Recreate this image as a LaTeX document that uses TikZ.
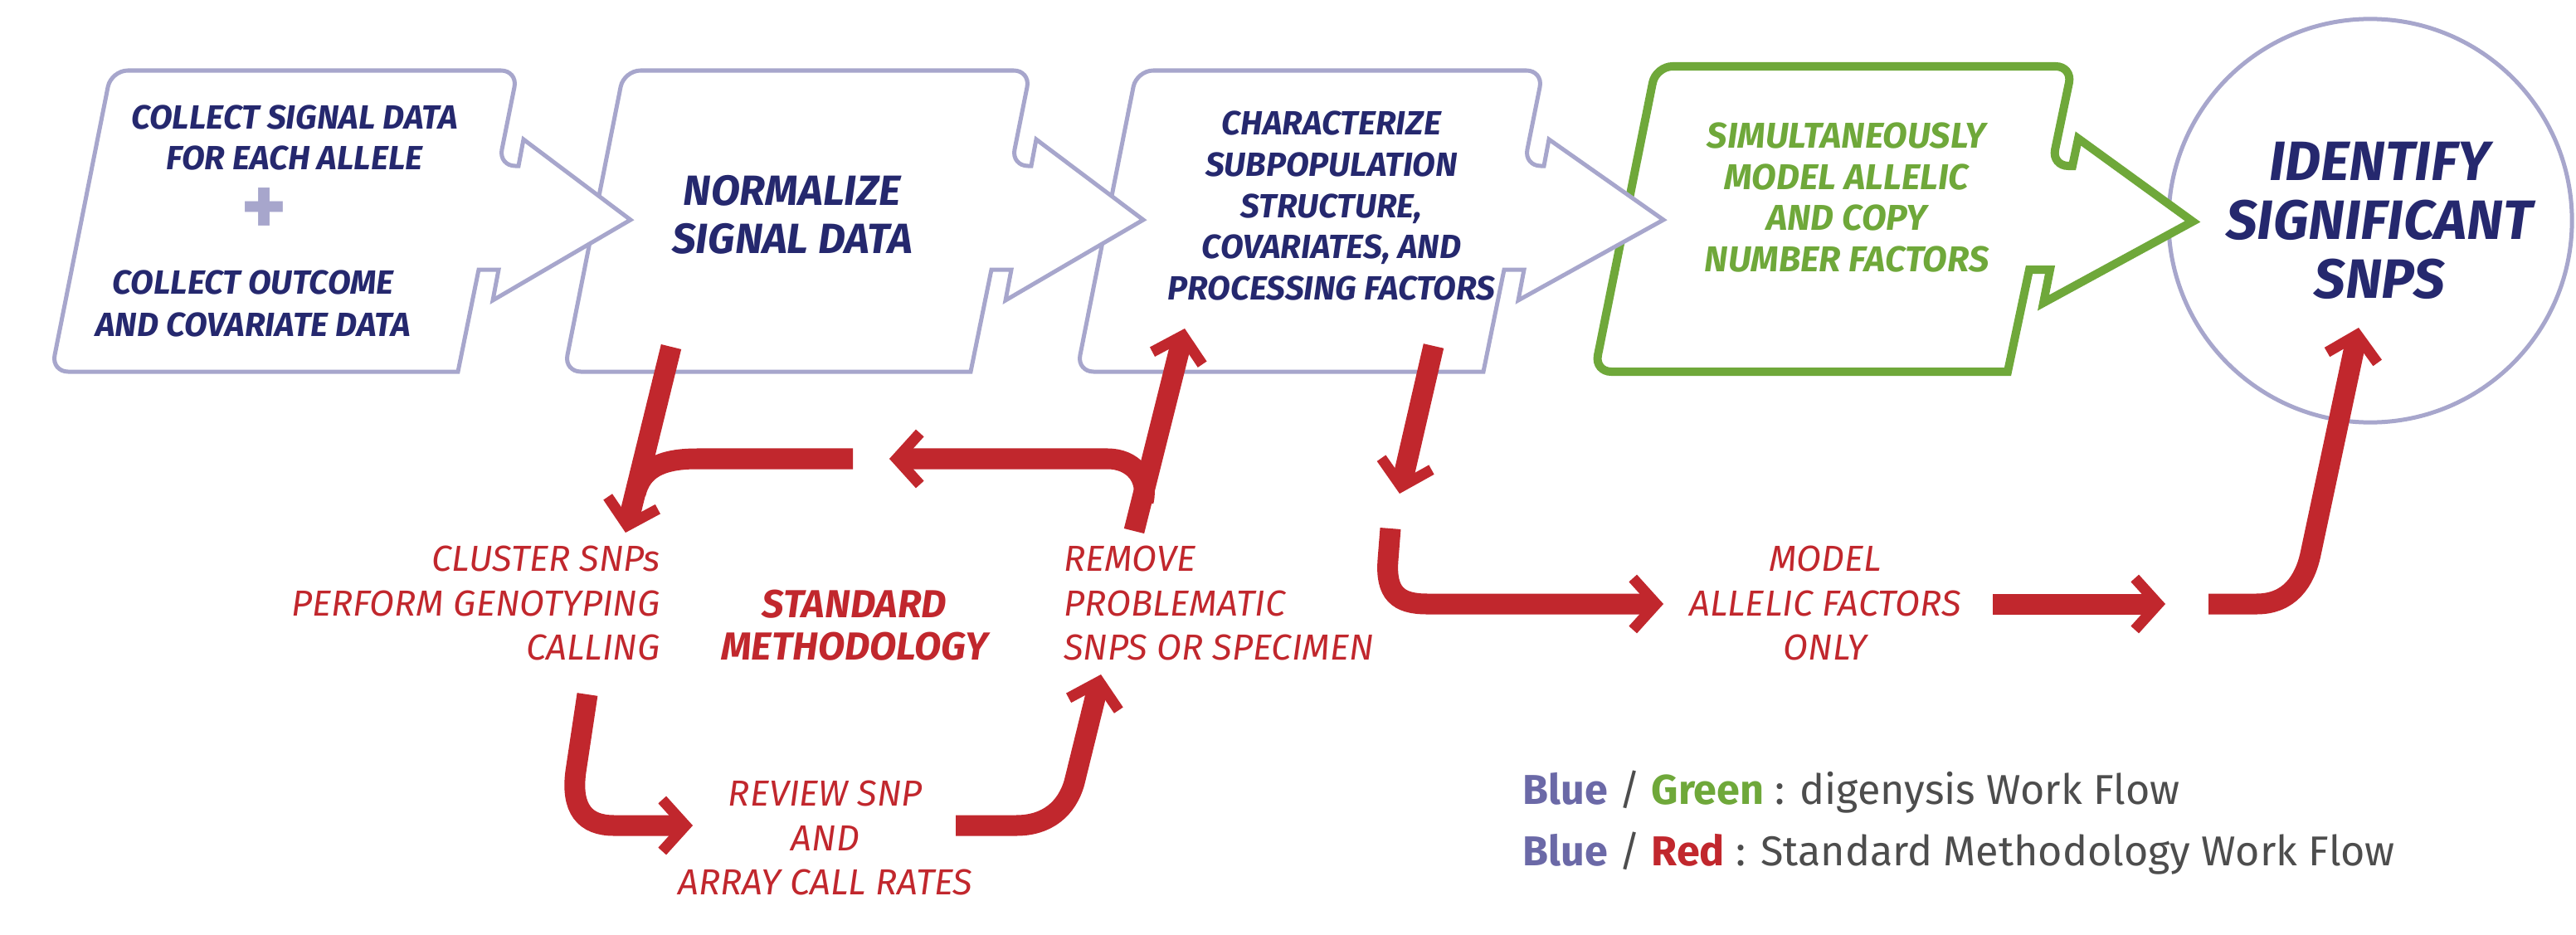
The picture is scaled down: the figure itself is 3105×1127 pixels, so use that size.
\documentclass[tikz,border=0pt]{standalone}
\usepackage{fontspec}
\setmainfont{Fira Sans}
\usetikzlibrary{arrows.meta}

\definecolor{navy}{RGB}{37,40,110}
\definecolor{lav}{RGB}{167,166,204}
\definecolor{leafgreen}{RGB}{111,168,58}
\definecolor{flowred}{RGB}{193,39,45}
\definecolor{legblue}{RGB}{107,105,167}
\definecolor{leggray}{RGB}{77,77,77}

\begin{document}
\begin{tikzpicture}[
    x=0.01cm, y=-0.01cm,
    flowbox/.style={draw=lav, line width=0.05cm, fill=white, rounded corners=0.2cm},
    greenbox/.style={draw=leafgreen, line width=0.1cm, fill=white, rounded corners=0.2cm},
    bluetext/.style 2 args={text=navy, align=center, font=\fontsize{#1}{#2}\selectfont\bfseries\itshape},
    redlabel/.style={text=flowred, align=center, font=\fontsize{12.4}{15.2}\selectfont\itshape},
    redbar/.style={draw=flowred, line width=0.25cm},
    redlink/.style={redbar, -{Straight Barb[length=0.28cm, width=0.62cm, line width=0.13cm]}}
]
\path[use as bounding box, fill=white] (0,0) rectangle (3105,1127);

% end of both work flows
\node[circle, draw=lav, line width=0.05cm, minimum size=4.86cm, inner sep=0pt] (idf) at (2857,266) {};

% step shapes, right to left so that each arrow lies on the next box
\draw[greenbox] (1996,80) -- (2498,80) -- (2473,200) [sharp corners] -- (2498,200) -- (2505,167) -- (2643,267) -- (2463,365) -- (2471,325) -- (2446,325) -- (2420,448) [rounded corners=0.2cm] -- (1922,448) -- cycle;
\draw[flowbox] (1370,85) -- (1860,85) -- (1837,200) [sharp corners] -- (1861,200) -- (1867,168) -- (2005,265) -- (1830,362) -- (1837,325) -- (1813,325) -- (1788,448) [rounded corners=0.2cm] -- (1298,448) -- cycle;
\draw[flowbox] (752,85) -- (1242,85) -- (1219,200) [sharp corners] -- (1243,200) -- (1249,168) -- (1378,265) -- (1212,362) -- (1219,325) -- (1195,325) -- (1170,448) [rounded corners=0.2cm] -- (680,448) -- cycle;
\draw[flowbox] (134,85) -- (624,85) -- (601,200) [sharp corners] -- (625,200) -- (631,168) -- (760,265) -- (594,362) -- (601,325) -- (577,325) -- (552,448) [rounded corners=0.2cm] -- (62,448) -- cycle;

\node[bluetext={11.5}{13.7}] (colsig) at (355,166) {COLLECT SIGNAL DATA\\FOR EACH ALLELE};
\node[text=lav, font=\fontsize{30}{30}\selectfont\bfseries] (plus) at (319,256) {+};
\node[bluetext={11.5}{14.5}] (colout) at (305,366) {COLLECT OUTCOME\\AND COVARIATE DATA};
\node[bluetext={14.5}{16.5}] (norm) at (955,259) {NORMALIZE\\SIGNAL DATA};
\node[bluetext={11.5}{14.2}] (chr) at (1605,248) {CHARACTERIZE\\SUBPOPULATION\\STRUCTURE,\\COVARIATES, AND\\PROCESSING FACTORS};
\node[bluetext={12.3}{14.2}, text=leafgreen] (simul) at (2226,238) {SIMULTANEOUSLY\\MODEL ALLELIC\\AND COPY\\NUMBER FACTORS};
\node[bluetext={19}{20.2}] (idftext) at (2868,266) {IDENTIFY\\SIGNIFICANT\\SNPS};

% standard methodology labels
\node[redlabel, align=right, anchor=east] (clu) at (808,727) {CLUSTER SNPs\\PERFORM GENOTYPING\\CALLING};
\node[redlabel, font=\fontsize{13.4}{14.5}\selectfont\bfseries\itshape] (stdm) at (1030,754) {STANDARD\\METHODOLOGY};
\node[redlabel, align=left, anchor=west] (rem) at (1270,727) {REMOVE\\PROBLEMATIC\\SNPS OR SPECIMEN};
\node[redlabel] (rev) at (995,1010) {REVIEW SNP\\AND\\ARRAY CALL RATES};
\node[redlabel] (mdl) at (2200,727) {MODEL\\ALLELIC FACTORS\\ONLY};

% arrow ends
\coordinate (nrmout) at (809,418);
\coordinate (cluin) at (754,642);
\coordinate (barend) at (1028,553);
\coordinate (barjoin) at (766,595);
\coordinate (remout) at (1367,640);
\coordinate (chrin) at (1428,396);
\coordinate (cfork) at (1378,605);
\coordinate (cend) at (1072,553);
\coordinate (calout) at (708,837);
\coordinate (revin) at (835,995);
\coordinate (revout) at (1152,995);
\coordinate (remin) at (1327,813);
\coordinate (chrout) at (1728,417);
\coordinate (chrdown) at (1687,595);
\coordinate (mdlstart) at (1676,637);
\coordinate (mdlin) at (2005,728);
\coordinate (mdlout) at (2402,728);
\coordinate (mdlend) at (2610,728);
\coordinate (idfstart) at (2662,728);
\coordinate (idfin) at (2843,395);

\draw[redlink] (nrmout) -- (cluin);
\draw[redbar] (barend) -- (840,553) .. controls (795,553) and (773,566) .. (barjoin);
\draw[redlink] (remout) -- (chrin);
\draw[redlink] (cfork) .. controls (1385,575) and (1365,553) .. (1335,553) -- (cend);
\draw[redlink] (calout) -- (694,930) .. controls (688,975) and (705,995) .. (740,995) -- (revin);
\draw[redlink] (revout) -- (1225,995) .. controls (1262,995) and (1286,975) .. (1295,943) -- (remin);
\draw[redlink] (chrout) -- (chrdown);
\draw[redlink] (mdlstart) -- (1673,675) .. controls (1670,715) and (1685,728) .. (1720,728) -- (mdlin);
\draw[redlink] (mdlout) -- (mdlend);
\draw[redlink] (idfstart) -- (2720,728) .. controls (2760,728) and (2778,700) .. (2785,668) -- (idfin);

% legend
\node[anchor=base west, text=leggray, font=\fontsize{14.3}{16}\selectfont] (leg1) at (1823,969) {{\bfseries\color{legblue}Blue} / {\bfseries\color{leafgreen}Green} : digenysis Work Flow};
\node[anchor=base west, text=leggray, font=\fontsize{14.3}{16}\selectfont] (leg2) at (1823,1043) {{\bfseries\color{legblue}Blue} / {\bfseries\color{flowred}Red} : Standard Methodology Work Flow};
\end{tikzpicture}
\end{document}
